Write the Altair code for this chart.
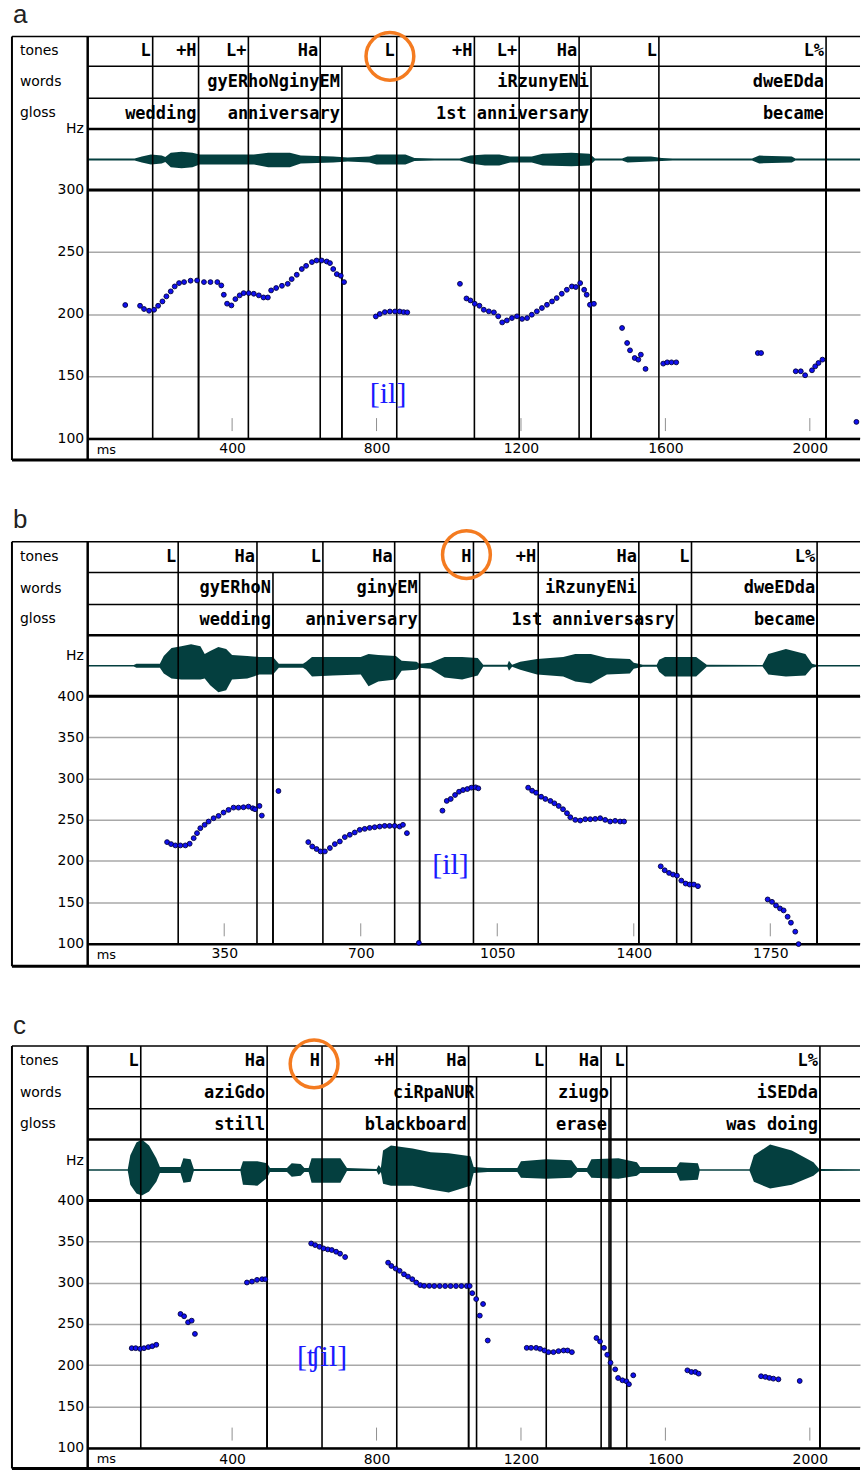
import altair as alt
import pandas as pd

# ---------------- panel a ----------------
A_TONES_MS = [180, 307, 445, 644, 856, 1071, 1195, 1361, 1582, 2045]
A_TONES = ["L", "+H", "L+", "Ha", "L", "+H", "L+", "Ha", "L", "L%"]
A_WORDS_MS = [704, 1394, 2045]
A_WORDS = ["gyERhoNginyEM", "iRzunyENi", "dweEDda"]
A_GLOSS_MS = [307, 704, 1394, 2045]
A_GLOSS = ["wedding", "anniversary", "1st anniversary", "became"]
A_XTICKS = [400, 800, 1200, 1600, 2000]
A_YTICKS = [100, 150, 200, 250, 300]
A_PITCH = [(104, 207.2), (145, 206.6), (156, 204), (170, 202.6), (184, 203.4), (195, 206.6), (207, 210.1),
           (218, 214.2), (230, 218.2), (241, 222.2), (253, 224.9), (267, 225.7), (285, 226.8), (303, 227),
           (322, 225.7), (340, 225.7), (359, 225.7), (370, 223), (377, 215.5), (386, 208.3), (398, 206.9),
           (409, 212), (421, 215), (432, 216.8), (446, 216.8), (460, 216.3), (474, 215), (487, 213.3),
           (499, 213.3), (508, 219), (522, 220.9), (538, 222.7), (554, 224.3), (565, 228.1), (579, 231.6),
           (593, 236.2), (605, 238.8), (621, 241.8), (634, 243.1), (648, 243.1), (662, 242.3), (671, 241),
           (680, 236.2), (690, 232.1), (701, 230.8), (710, 225.7),
           (798, 198), (809, 200), (823, 201.5), (837, 202), (851, 202), (864, 202), (875, 201.5), (885, 201.3),
           (1031, 224.3), (1049, 212.5), (1060, 210.9), (1072, 208.2), (1085, 206.6), (1097, 203.4),
           (1111, 202.1), (1125, 201.3), (1137, 198.1), (1148, 193.2), (1161, 194.8), (1175, 196.7),
           (1189, 198.1), (1203, 196), (1217, 196.7), (1230, 199.4), (1244, 202.1), (1258, 204.8),
           (1272, 207.4), (1286, 210.1), (1299, 212.8), (1313, 216.3), (1327, 219.5), (1341, 222.2),
           (1352, 221.7), (1364, 224.9), (1375, 219.5), (1382, 215.5), (1391, 207.4), (1402, 208.2),
           (1480, 188.7), (1494, 176.6), (1502, 170.7), (1515, 164.5), (1525, 163.2), (1532, 167.2),
           (1545, 155.7), (1594, 160), (1605, 161), (1617, 161), (1630, 161), (1856, 168.5), (1865, 168.5),
           (1961, 153.8), (1975, 153.8), (1987, 150.6), (2006, 154.6), (2015, 157.8), (2024, 160.5),
           (2035, 163.2), (2129, 113)]
A_WAVE = [(0, 1, 1), (130, 1, 1), (150, 3, 3), (175, 5, 5), (205, 4, 4), (215, 2.5, 2.5), (230, 7, 8),
          (260, 8, 9), (290, 7, 8), (310, 5, 5), (400, 5, 5), (460, 5, 5), (500, 7, 8), (560, 7, 8),
          (590, 4, 4), (680, 3, 3), (720, 2, 2), (780, 3, 3), (800, 5, 5), (880, 5, 5), (905, 1.5, 1.5),
          (960, 1, 1), (1030, 1, 1), (1060, 4, 4), (1100, 5, 6), (1140, 5, 6), (1170, 3, 3), (1230, 3, 3),
          (1260, 6, 6), (1340, 7, 7), (1390, 6, 6), (1405, 1, 1), (1480, 1, 1), (1495, 3, 3), (1560, 3, 2),
          (1590, 1.5, 1.5), (1620, 1, 1), (1840, 1, 1), (1860, 4, 4), (1950, 3, 3), (1960, 1, 1), (2139, 1, 1)]

# ---------------- panel b ----------------
B_TONES_MS = [232, 434, 603, 787, 989, 1155, 1413, 1548, 1870]
B_TONES = ["L", "Ha", "L", "Ha", "H", "+H", "Ha", "L", "L%"]
B_WORDS_MS = [475, 851, 1413, 1870]
B_WORDS = ["gyERhoN", "ginyEM", "iRzunyENi", "dweEDda"]
B_GLOSS_MS = [475, 851, 1510, 1870]
B_GLOSS = ["wedding", "anniversary", "1st anniversasry", "became"]
B_XTICKS = [350, 700, 1050, 1400, 1750]
B_YTICKS = [100, 150, 200, 250, 300, 350, 400]
B_PITCH = [(203.5, 222.8), (213.8, 220.4), (224.8, 218.8), (237.6, 218.8), (250.4, 218.8), (261.4, 220.8),
           (271.7, 227.6), (280.2, 233.7), (288.7, 239.7), (299.8, 243.8), (310, 247.8), (322.8, 251.8),
           (335.5, 254.6), (348.3, 258.7), (361.1, 261.9), (373.9, 264.7), (386.6, 264.7), (399.4, 265.1),
           (412.2, 265.9), (423.2, 263.9), (429, 262.7), (440.4, 266.7), (446.4, 255), (489, 284.8),
           (565.5, 222.8), (575.7, 217.5), (586.8, 214.4), (597, 211.5), (608.1, 211.5), (620.9, 215.6),
           (633.6, 220.4), (646.4, 223.6), (659.2, 228.9), (672, 231.7), (684.7, 234.5), (697.5, 237.7),
           (710.3, 238.9), (723, 240.1), (735.8, 240.9), (748.6, 241.7), (761.4, 242.5), (774.1, 242.5),
           (786.9, 242.5), (799.7, 241.7), (808.2, 243.8), (818.4, 233.7), (849, 100.5),
           (909.5, 261), (920.5, 272.8), (930.7, 275.2), (941.8, 280), (952, 284), (962.3, 286),
           (973.3, 287.2), (983.5, 288.9), (994.6, 289.3), (1001.4, 288.1),
           (1129.2, 288.9), (1139.4, 285.2), (1149.6, 282.8), (1162.4, 277.9), (1173.4, 275.2),
           (1186.2, 272.8), (1196.4, 269.9), (1207.5, 266.7), (1218.6, 262.7), (1228.8, 257.9),
           (1237.3, 253), (1250.1, 249.8), (1262.8, 249), (1275.6, 250.6), (1288.4, 250.6), (1301.1, 251),
           (1313.9, 251.8), (1326.7, 249.8), (1339.5, 247.8), (1352.2, 248.6), (1365, 247.8), (1375.2, 247.8),
           (1469.1, 193.4), (1479.3, 188.6), (1490.4, 185.4), (1500.6, 183.4), (1510.8, 182.1),
           (1521.9, 176.1), (1533, 172.5), (1543.2, 171.3), (1554.2, 171.3), (1564.5, 169.3),
           (1743.3, 153.2), (1754.4, 150.3), (1764.6, 145.9), (1774.8, 142.3), (1784.2, 139.9),
           (1794.4, 132.2), (1802.9, 125), (1814, 114.1), (1822.5, 99)]
B_WAVE = [(0, 0.8, 0.8), (118, 0.8, 0.8), (125, 2, 2), (185, 2, 2), (195, 10, 8), (215, 18, 13), (240, 20, 14),
          (265, 22, 14), (289, 20, 14), (300, 12, 13), (314, 15, 20), (335, 19, 27), (355, 17, 25),
          (370, 11, 14), (409, 10, 13), (440, 9, 9), (475, 9, 9), (490, 2, 2), (552, 2, 2), (560, 4, 4),
          (575, 9, 11), (628, 9, 10), (700, 9, 9), (720, 12, 21), (745, 11, 16), (790, 10, 14), (805, 5, 5),
          (843, 4, 4), (850, 2, 2), (879, 3, 3), (915, 9, 12), (960, 9, 14), (1000, 8, 10), (1014, 1, 1),
          (1076, 1, 1), (1080, 5, 5), (1088, 1, 1), (1109, 4, 4), (1152, 7, 9), (1219, 9, 11), (1250, 12, 16),
          (1290, 12, 18), (1331, 8, 9), (1390, 7, 8), (1400, 3, 3), (1423, 1, 1), (1459, 1, 1), (1465, 6, 6),
          (1480, 9, 11), (1560, 9, 11), (1587, 1, 1), (1730, 0.8, 0.8), (1745, 12, 9), (1790, 17, 11),
          (1840, 12, 10), (1857, 2, 2), (1870, 0.8, 0.8), (1980, 0.8, 0.8)]

# ---------------- panel c ----------------
C_TONES_MS = [147, 497, 649, 856, 1055, 1270, 1422, 1493, 2028]
C_TONES = ["L", "Ha", "H", "+H", "Ha", "L", "Ha", "L", "L%"]
C_WORDS_MS = [497, 1077, 1449, 2028]
C_WORDS = ["aziGdo", "ciRpaNUR", "ziugo", "iSEDda"]
C_GLOSS_MS = [497, 1055, 1444, 2028]
C_GLOSS = ["still", "blackboard", "erase", "was doing"]
C_XTICKS = [400, 800, 1200, 1600, 2000]
C_YTICKS = [100, 150, 200, 250, 300, 350, 400]
C_PITCH = [(122, 220.6), (133, 220.6), (145, 219.8), (156, 220.6), (168, 221.9), (179, 223), (190, 224.7),
           (257, 262.1), (267, 259.3), (278, 252), (288, 254), (297, 237.9),
           (441, 300.3), (455, 301.5), (469, 303.5), (483, 304.3), (492, 304.3),
           (619, 347.7), (630, 345.7), (642, 343.7), (653, 341.7), (665, 340.5), (676, 339.7), (688, 337.7),
           (699, 335.3), (713, 331.2),
           (832, 324.4), (841, 320.4), (853, 317.2), (864, 314.5), (876, 310.3), (887, 307.5), (899, 304.3),
           (910, 300.3), (921, 297.1), (932, 296.2), (946, 296.2), (960, 296), (975, 296), (990, 296),
           (1005, 296), (1020, 296), (1035, 296), (1050, 296), (1058, 296), (1065, 287.4), (1076, 280.2),
           (1086, 260.1), (1095, 274.2), (1108, 229.9),
           (1216, 221), (1228, 221), (1242, 221), (1253, 219.8), (1265, 217.8), (1276, 215.8), (1290, 215.8),
           (1304, 217), (1318, 217.8), (1329, 217.8), (1341, 215.8),
           (1409, 232.9), (1419, 228.7), (1430, 221), (1439, 212.6), (1448, 202.9), (1461, 194.9),
           (1469, 184.4), (1481, 181.6), (1492, 180.4), (1499, 176.8), (1511, 187.7),
           (1661, 193.7), (1672, 191.7), (1683, 191.7), (1692, 189.7), (1865, 186.5), (1877, 185.7),
           (1888, 184.5), (1899, 183.6), (1913, 182.8), (1972, 180.8)]
C_WAVE = [(0, 0.8, 0.8), (111, 0.8, 0.8), (118, 15, 15), (135, 28, 24), (150, 31, 26), (170, 25, 22),
          (190, 12, 12), (200, 3, 3), (257, 3, 3), (265, 12, 13), (285, 11, 12), (294, 1, 1), (423, 1, 1),
          (430, 9, 15), (470, 9, 16), (497, 7, 8), (505, 2, 2), (552, 2, 2), (565, 7, 7), (590, 6, 6),
          (600, 2, 2), (612, 2, 2), (620, 12, 13), (700, 12, 13), (718, 2, 1), (800, 1, 1), (806, 5, 5),
          (812, 2, 2), (818, 20, 14), (840, 25, 16), (900, 22, 16), (950, 18, 20), (1000, 17, 23),
          (1060, 14, 16), (1069, 3, 3), (1107, 2, 2), (1190, 2, 2), (1200, 9, 8), (1270, 11, 9),
          (1340, 10, 8), (1356, 2, 2), (1383, 2, 2), (1395, 11, 8), (1470, 12, 9), (1521, 8, 6), (1530, 3, 3),
          (1631, 3, 3), (1640, 8, 11), (1690, 7, 10), (1695, 0.8, 0.8), (1833, 0.8, 0.8), (1845, 15, 12),
          (1890, 26, 19), (1950, 20, 15), (2010, 8, 6), (2026, 1, 1), (2139, 0.8, 0.8)]

# ---------------- styling ----------------
W = 775
H = 425
MONO = "DejaVu Sans Mono"
SANS = "DejaVu Sans"
ONE = alt.Data(values=[{}])


def hline(y, x1, x2, w):
    return alt.Chart(ONE).mark_rule(color="black", strokeWidth=w).encode(
        x=alt.value(x1), x2=alt.value(x2), y=alt.value(y))


def vline(x, y1, y2, w):
    return alt.Chart(ONE).mark_rule(color="black", strokeWidth=w).encode(
        x=alt.value(x), y=alt.value(y1), y2=alt.value(y2))


def label(txt, x, y, size, align="left", baseline="alphabetic", font=SANS, color="black"):
    return alt.Chart(ONE).mark_text(text=txt, align=align, baseline=baseline, font=font,
                                    fontSize=size, color=color).encode(x=alt.value(x), y=alt.value(y))


def panel(letter, xmax, xticks, ymax, yticks, rows, hz_y, pitch, wave, tones_ms, tones, words_ms, words,
          gloss_ms, gloss, note, note_ms, note_y, circ_ms, circ_y, letter_y):
    t_top, w_top, g_top, wav_top, p_top, p_bot, b_bot = rows

    def X():
        return alt.X("ms:Q", scale=alt.Scale(domain=[0, xmax], nice=False, zero=False),
                     axis=alt.Axis(values=xticks, format="d", orient="bottom", offset=-(b_bot - p_bot),
                                   grid=False, ticks=False, domain=False, labelPadding=3, labelFont=SANS,
                                   labelFontSize=14, labelColor="black", title=None, labelOverlap=False,
                                   labelFlush=False))

    pdf = pd.DataFrame(pitch, columns=["ms", "hz"])
    wdf = pd.DataFrame(wave, columns=["ms", "up", "down"])
    wdf["dn"] = -wdf["down"]
    tdf = pd.DataFrame({"ms": tones_ms, "lab": tones})
    wodf = pd.DataFrame({"ms": words_ms, "lab": words})
    gdf = pd.DataFrame({"ms": gloss_ms, "lab": gloss})
    kdf = pd.DataFrame({"ms": xticks})

    wave_l = alt.Chart(wdf).mark_area(color="#043f3f", interpolate="linear").encode(
        x=X(),
        y=alt.Y("up:Q", scale=alt.Scale(domain=[-31, 31], range=[p_top, wav_top], nice=False, zero=False),
                axis=None),
        y2="dn:Q")

    tick_l = alt.Chart(kdf).mark_rule(color="#909090", strokeWidth=1).encode(
        x=X(), y=alt.value(p_bot - 21), y2=alt.value(p_bot - 8))

    def bounds(df, top):
        return alt.Chart(df).mark_rule(color="black", strokeWidth=1.6).encode(
            x=X(), y=alt.value(top), y2=alt.value(p_bot))

    def tier_text(df, base):
        return alt.Chart(df).mark_text(align="right", baseline="alphabetic", dx=-2, font=MONO,
                                       fontWeight="bold", fontSize=17, color="black").encode(
            x=X(), y=alt.value(base), text="lab:N")

    pitch_l = alt.Chart(pdf).mark_point(filled=True, fill="#1010f0", stroke="#000040", strokeWidth=0.9,
                                        size=24, opacity=1).encode(
        x=X(),
        y=alt.Y("hz:Q", scale=alt.Scale(domain=[100, ymax], range=[p_bot - 1, p_top], nice=False, zero=False),
                axis=alt.Axis(values=yticks, grid=True, gridColor="#a8a8a8", gridWidth=1.5, domain=False,
                              ticks=False, labelPadding=4, labelFont=SANS, labelFontSize=14,
                              labelColor="black", title=None, labelOverlap=False, labelFlush=False)))

    note_l = alt.Chart(pd.DataFrame({"ms": [note_ms], "lab": [note]})).mark_text(
        align="center", baseline="middle", font="Liberation Serif, DejaVu Serif", fontSize=30,
        color="#1a1aff").encode(x=X(), y=alt.value(note_y), text="lab:N")

    circ_l = alt.Chart(pd.DataFrame({"ms": [circ_ms]})).mark_point(
        shape="circle", filled=False, stroke="#f47b20", strokeWidth=3.5, size=2300, opacity=1).encode(
        x=X(), y=alt.value(circ_y))

    layers = [
        wave_l, tick_l,
        bounds(tdf, t_top), bounds(wodf, w_top), bounds(gdf, g_top),
        hline(t_top, -76, W, 1.5), hline(w_top, 0, W, 1.5), hline(g_top, 0, W, 1.5),
        hline(wav_top, 0, W, 2.5), hline(p_top, 0, W, 3), hline(p_bot, 0, W, 2.5), hline(b_bot, -76, W, 3),
        vline(-76, t_top, b_bot, 2), vline(0, t_top, b_bot, 2.5),
        pitch_l,
        tier_text(tdf, t_top + 20), tier_text(wodf, w_top + 21), tier_text(gdf, g_top + 21),
        label("tones", -68, t_top + 19, 14), label("words", -68, w_top + 20, 14),
        label("gloss", -68, g_top + 19, 14),
        label("Hz", -4, hz_y, 14, align="right", baseline="middle"),
        label("ms", 9, p_bot + 11, 13, baseline="middle"),
        label(letter, -75, letter_y, 26, font="Liberation Sans", color="#222222"),
        note_l, circ_l,
    ]
    return alt.layer(*layers).resolve_scale(y="independent").properties(width=W, height=H)


pa = panel("a", 2139, A_XTICKS, 300, A_YTICKS, [0, 30, 62, 93, 154, 404, 425], 93,
           A_PITCH, A_WAVE, A_TONES_MS, A_TONES, A_WORDS_MS, A_WORDS, A_GLOSS_MS, A_GLOSS,
           "[il]", 832, 359, 837, 20, -13)
pb = panel("b", 1980, B_XTICKS, 400, B_YTICKS, [0, 31, 63, 94, 155, 404, 426], 115,
           B_PITCH, B_WAVE, B_TONES_MS, B_TONES, B_WORDS_MS, B_WORDS, B_GLOSS_MS, B_GLOSS,
           "[il]", 930, 324, 971, 13, -14)
pc = panel("c", 2139, C_XTICKS, 400, C_YTICKS, [0, 31, 63, 94, 155, 404, 424], 115,
           C_PITCH, C_WAVE, C_TONES_MS, C_TONES, C_WORDS_MS, C_WORDS, C_GLOSS_MS, C_GLOSS,
           "[ʧil]", 649, 312, 627, 18, -12)

chart = alt.vconcat(pa, pb, pc, spacing=45).properties(
    padding={"left": 10, "top": 0, "right": 0, "bottom": 0}
).configure_view(stroke=None)

chart.save("out.html", embed_options={"renderer": "svg", "actions": False})
